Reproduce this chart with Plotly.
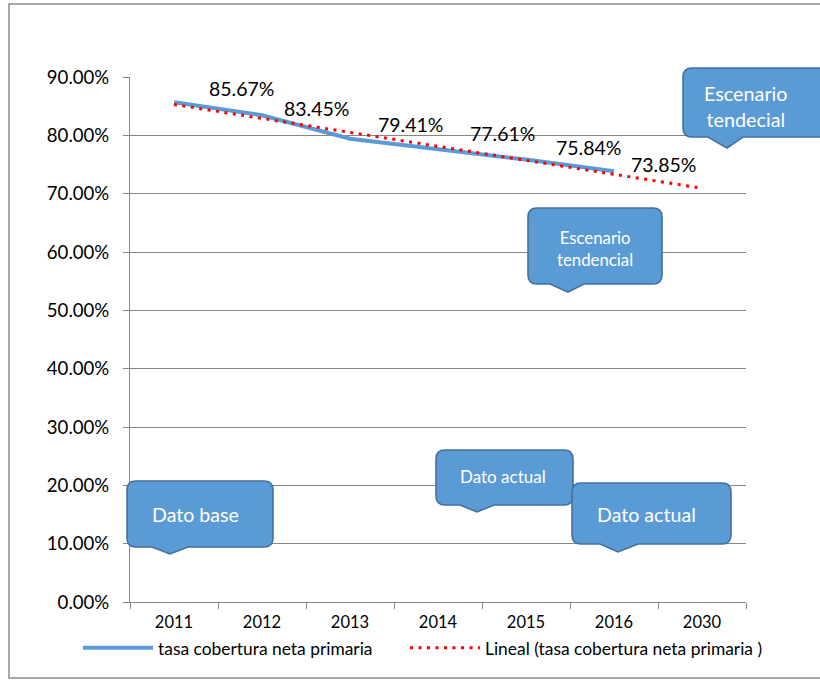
import plotly.graph_objects as go

years = ["2011", "2012", "2013", "2014", "2015", "2016", "2030"]
tasa = [0.8567, 0.8345, 0.7941, 0.7761, 0.7584, 0.7385]
lineal = [0.8529, 0.8289, 0.8050, 0.7811, 0.7572, 0.7333, 0.7093]
label_text = ["85.67%", "83.45%", "79.41%", "77.61%", "75.84%", "73.85%"]
label_dx = [67, 54, 60, 64, 62, 49]
label_dy = [14, 7, 14, 16, 12, 7]

FONT = "Lato"
W, H = 820, 681
L, R, T, B = 130, 74, 77, 79
PW, PH = W - L - R, H - T - B


def px(x):
    return (x - L) / PW


def py(y):
    return (H - B - y) / PH


def callout(x0, y0, x1, y1, bx0, bx1, tx, ty, r=9):
    pts = [
        ("M", x0 + r, y0), ("L", x1 - r, y0), ("Q", x1, y0, x1, y0 + r),
        ("L", x1, y1 - r), ("Q", x1, y1, x1 - r, y1), ("L", bx1, y1),
        ("L", tx, ty), ("L", bx0, y1), ("L", x0 + r, y1),
        ("Q", x0, y1, x0, y1 - r), ("L", x0, y0 + r), ("Q", x0, y0, x0 + r, y0),
    ]
    s = ""
    for p in pts:
        cmd = p[0]
        coords = p[1:]
        parts = []
        for i in range(0, len(coords), 2):
            parts.append(f"{px(coords[i]):.5f},{py(coords[i+1]):.5f}")
        s += cmd + " " + " ".join(parts) + " "
    s += "Z"
    return dict(type="path", path=s, xref="paper", yref="paper",
                fillcolor="#5B9BD5", line=dict(color="#41719C", width=1.6),
                layer="above")


fig = go.Figure()
fig.add_trace(go.Scatter(
    x=years[:len(tasa)], y=tasa, mode="lines",
    name="tasa cobertura neta primaria",
    line=dict(color="#5B9BD5", width=4), legend="legend",
))
fig.add_trace(go.Scatter(
    x=years, y=lineal, mode="lines",
    name="Lineal (tasa cobertura neta primaria )",
    line=dict(color="#FF0000", width=3, dash="3px,5.5px"), legend="legend2",
))

annotations = []
for i, (v, t, dx, dy) in enumerate(zip(tasa, label_text, label_dx, label_dy)):
    annotations.append(dict(x=i, y=v, xref="x", yref="y", text=t,
                            showarrow=False, xshift=dx, yshift=dy,
                            xanchor="center", yanchor="middle",
                            font=dict(family=FONT, size=19.5, color="black")))

shapes = [
    dict(type="path", xref="paper", yref="paper",
         path=(f"M {px(900):.5f},{py(4):.5f} L {px(9):.5f},{py(4):.5f} "
               f"L {px(9):.5f},{py(678):.5f} L {px(900):.5f},{py(678):.5f}"),
         line=dict(color="#8C8C8C", width=1.5), layer="below"),
    callout(683, 68, 845, 137, 708, 743, 727, 148),
    callout(528, 208, 662, 284, 550, 584, 568, 292),
    callout(436, 450, 573, 505, 460, 494, 477, 512),
    callout(572, 483, 731, 544, 600, 638, 618, 552),
    callout(127, 481, 273, 547, 152, 188, 170, 554),
]

callout_texts = [
    ("Escenario<br>tendecial", 746, 106, 19.8),
    ("Escenario<br>tendencial", 595, 248, 16.8),
    ("Dato actual", 503, 476, 17),
    ("Dato actual", 646, 514, 19.6),
    ("Dato base", 195, 514, 19.6),
]
for t, x, y, s in callout_texts:
    annotations.append(dict(x=px(x), y=py(y), xref="paper", yref="paper",
                            text=t, showarrow=False, xanchor="center",
                            yanchor="middle",
                            font=dict(family=FONT, size=s, color="white")))

legend_common = dict(orientation="h", xanchor="left", y=py(648),
                     yanchor="middle", font=dict(family=FONT, size=17.4),
                     itemwidth=70, bgcolor="rgba(0,0,0,0)")

fig.update_layout(
    width=W, height=H,
    margin=dict(l=L, r=R, t=T, b=B),
    paper_bgcolor="white", plot_bgcolor="white",
    font=dict(family=FONT, color="black"),
    shapes=shapes,
    annotations=annotations,
    showlegend=True,
    legend=dict(x=px(78), **legend_common),
    legend2=dict(x=px(405), **legend_common),
    xaxis=dict(type="category", categoryorder="array", categoryarray=years,
               range=[-0.5, 6.5], showgrid=False, showline=True,
               linecolor="#868686", linewidth=1, ticks="outside",
               tickson="boundaries", ticklen=6, tickcolor="#868686",
               tickfont=dict(family=FONT, size=16.5, color="black"),
               ticklabelstandoff=5, zeroline=False, fixedrange=True),
    yaxis=dict(range=[0, 0.9], dtick=0.1, tick0=0, tickformat=".2%",
               showgrid=True, gridcolor="#868686", gridwidth=1,
               showline=True, linecolor="#868686", linewidth=1,
               ticks="outside", ticklen=6, tickcolor="#868686",
               tickfont=dict(family=FONT, size=18.6, color="black"),
               ticklabelstandoff=10, zeroline=False, fixedrange=True),
)

fig.write_html("out.html", config={"displayModeBar": False},
               post_script="document.body.style.margin='0';document.body.style.overflow='hidden';")
